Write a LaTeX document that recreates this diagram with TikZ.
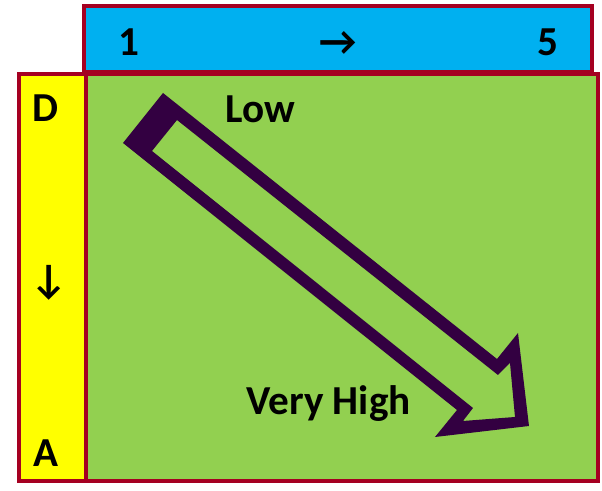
\documentclass[tikz,border=0pt]{standalone}
\usepackage{fontspec}
\setmainfont{Carlito}
\usepackage{tikz}
\usetikzlibrary{positioning}

\definecolor{edgered}{HTML}{A50021}
\definecolor{barblue}{HTML}{00B0F0}
\definecolor{sideyellow}{HTML}{FFFF00}
\definecolor{fieldgreen}{HTML}{92D050}
\definecolor{arrowpurple}{HTML}{330041}

\begin{document}
\begin{tikzpicture}[
    x=0.5pt, y=-0.5pt,
    panel/.style={rectangle, draw=edgered, line width=2pt, inner sep=0pt},
    lbl/.style={font=\fontsize{20.6}{24}\selectfont\bfseries, inner sep=0pt, anchor=base}
]
    \useasboundingbox (0,0) rectangle (602,491);

    % the three panels
    \node [panel, fill=sideyellow, minimum width=33.5pt, minimum height=203.5pt] (side) at (52.5,277.5) {};
    \node [panel, fill=fieldgreen, minimum width=256pt, minimum height=203.5pt] (field) at (342,277.5) {};
    \node [panel, fill=barblue, minimum width=254pt, minimum height=33pt] (scale) at (338.5,39.5) {};

    % scale labels
    \node [lbl] (one) at (129,56) {1};
    \node [lbl] (rarr) at (338.5,56) {→};
    \node [lbl] (five) at (548,56) {5};
    \node [lbl] (dee) at (45,122) {D};
    \node [lbl] (darr) at (49,294) {↓};
    \node [lbl] (ay) at (45.5,467) {A};

    % hollow block arrow
    \fill [arrowpurple, even odd rule]
        (163,93) -- (497,359) -- (518,333) -- (529,426) -- (435,437) -- (457,410) -- (123,143) -- cycle
        (177,120) -- (498,375) -- (510,363) -- (515,417) -- (463,421) -- (473,408) -- (152,151) -- cycle;

    \node [lbl] (low) at (260,123) {Low};
    \node [lbl] (high) at (328.5,415) {Very High};
\end{tikzpicture}
\end{document}
